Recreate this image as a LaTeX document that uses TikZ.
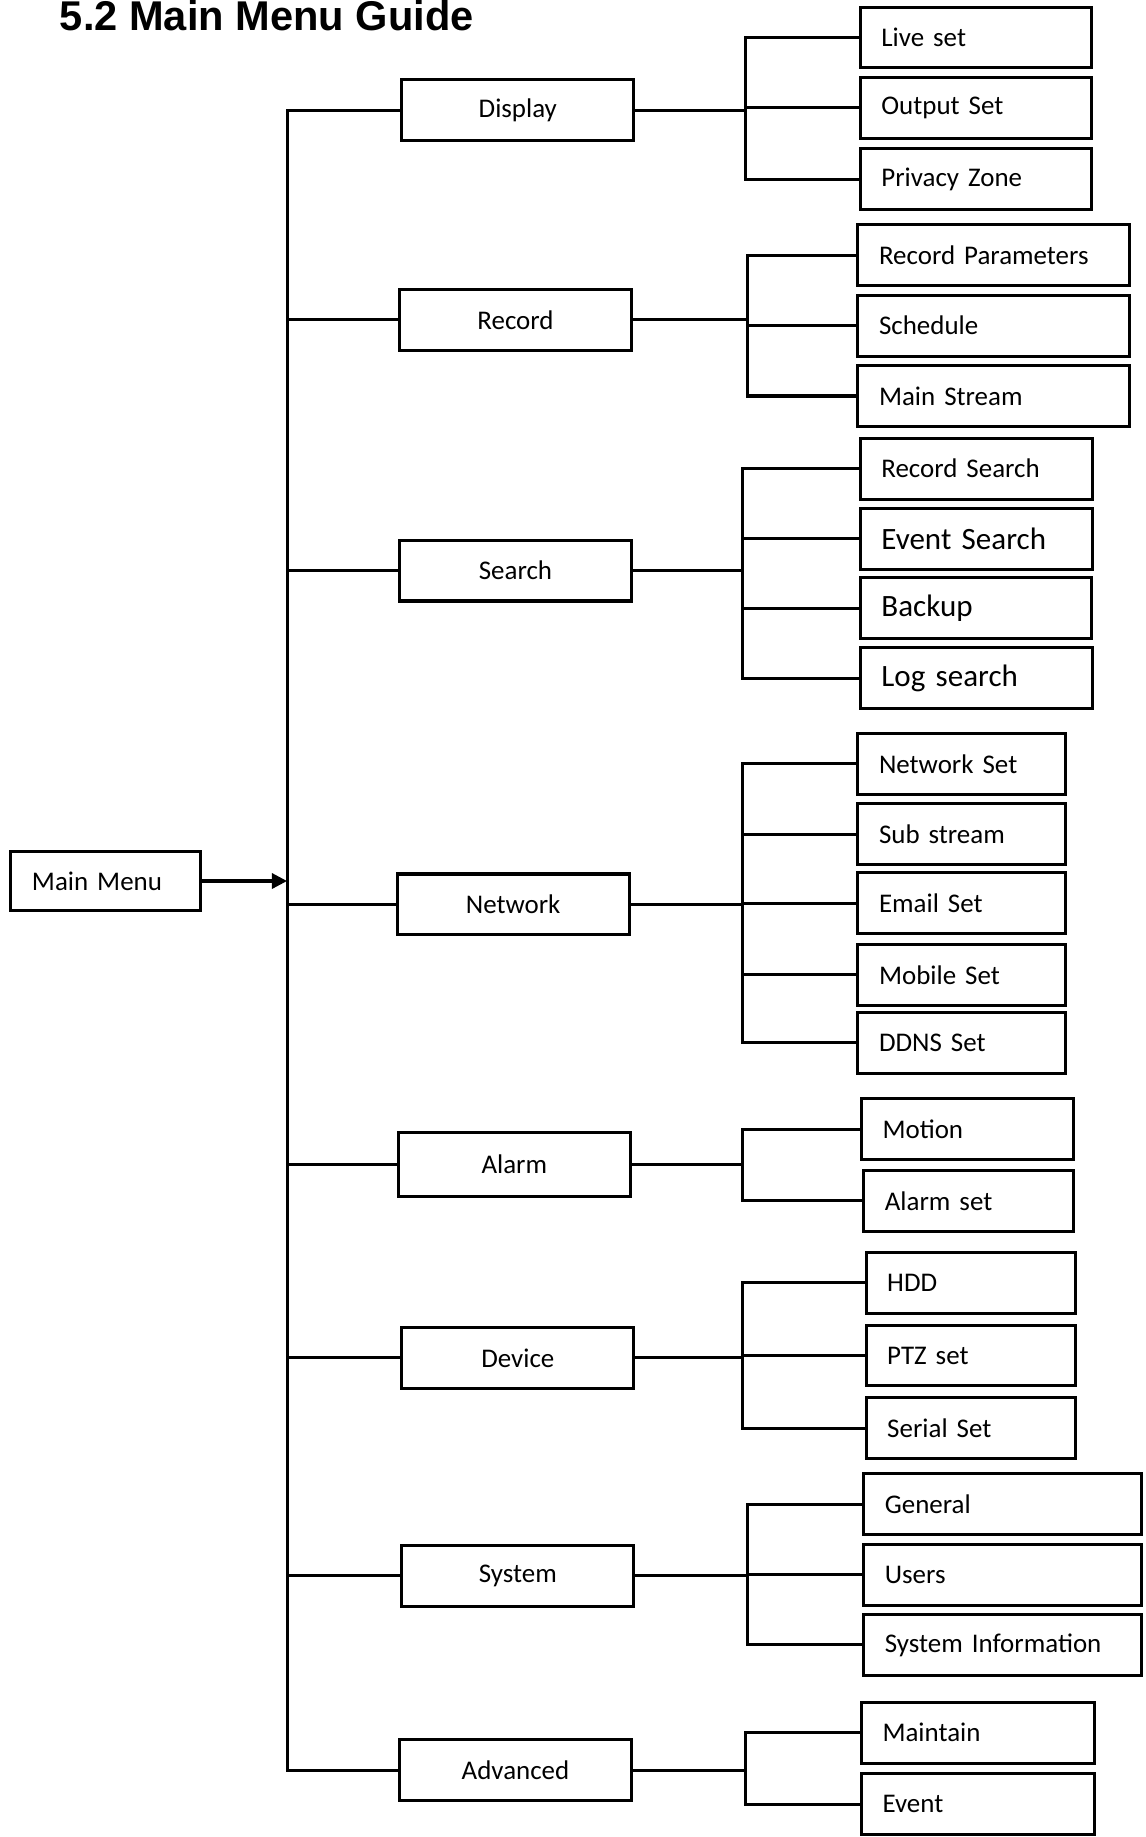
\documentclass[tikz,border=0pt]{standalone}
\usepackage{fontspec}
\setmainfont{Carlito}
\newfontfamily\titlefont{Liberation Sans}
\usetikzlibrary{arrows.meta}
\tikzset{
  menubox/.style = {draw,line width=2.6pt,minimum width=198pt,minimum height=52pt,
                    inner sep=0pt,font=\fontsize{23}{26}\selectfont},
  leafbox/.style = {draw,line width=2.6pt,anchor=west,minimum height=52pt,
                    text width=#1,align=left,inner xsep=18pt,inner ysep=0pt,
                    font=\fontsize{23}{26}\selectfont},
  bigtext/.style = {font=\fontsize{26.5}{30}\selectfont},
  link/.style    = {line width=2.6pt,line cap=rect}
}
\begin{document}
\begin{tikzpicture}[x=1pt,y=-1pt]
  \useasboundingbox (0,0) rectangle (978,1568);
  \node[anchor=base west,inner sep=0pt,font=\titlefont\bfseries\fontsize{35.5}{40}\selectfont]
       (title) at (51,26) {5.2 Main Menu Guide};
  % --- root and first level
  \node[leafbox=126pt,minimum height=51pt] (mainmenu) at (8,752) {Main Menu};
  \coordinate (tk) at (245,752);
  \node[menubox] (disp)  at (442,94)   {Display};
  \node[menubox] (rec)   at (440,273)  {Record};
  \node[menubox] (srch)  at (440,487)  {Search};
  \node[menubox] (net)   at (438,772)  {Network};
  \node[menubox,minimum height=54pt] (alarm) at (439,994) {Alarm};
  \node[menubox] (dev)   at (442,1159) {Device};
  \node[menubox] (sys)   at (442,1345) {System};
  \node[menubox] (adv)   at (440,1511) {Advanced};
  \draw[link] (disp.west -| tk) -- (adv.west -| tk);
  \foreach \m in {disp,rec,srch,net,alarm,dev,sys,adv}
    \draw[link] (\m.west) -- (\m.west -| tk);
  \draw[line width=2.6pt,-{Triangle[length=13pt,width=13pt]}] (mainmenu.east) -- (mainmenu.east -| tk);
  % --- Display
  \node[leafbox=161pt] (live)    at (733,32)  {Live set};
  \node[leafbox=161pt] (output)  at (733,92)  {Output Set};
  \node[leafbox=161pt] (privacy) at (733,153) {Privacy Zone};
  \coordinate (dx) at (636,0);
  \draw[link] (disp.east) -- (disp.east -| dx);
  \draw[link] (live.west -| dx) -- (privacy.west -| dx);
  \foreach \n in {live,output,privacy} \draw[link] (\n.west) -- (\n.west -| dx);
  % --- Record
  \node[leafbox=196pt] (recpar) at (731,218) {Record Parameters};
  \node[leafbox=196pt] (sched)  at (731,278) {Schedule};
  \node[leafbox=196pt] (mainst) at (731,338) {Main Stream};
  \coordinate (rx) at (638,0);
  \draw[link] (rec.east) -- (rec.east -| rx);
  \draw[link] (recpar.west -| rx) -- (mainst.west -| rx);
  \foreach \n in {recpar,sched,mainst} \draw[link] (\n.west) -- (\n.west -| rx);
  % --- Search
  \node[leafbox=162pt]         (recsrch) at (733,400) {Record Search};
  \node[leafbox=162pt,bigtext] (evsrch)  at (733,460) {Event Search};
  \node[leafbox=161pt,bigtext] (backup)  at (733,519) {Backup};
  \node[leafbox=162pt,bigtext] (logsrch) at (733,579) {Log search};
  \coordinate (sx) at (634,0);
  \draw[link] (srch.east) -- (srch.east -| sx);
  \draw[link] (recsrch.west -| sx) -- (logsrch.west -| sx);
  \foreach \n in {recsrch,evsrch,backup,logsrch} \draw[link] (\n.west) -- (\n.west -| sx);
  % --- Network
  \node[leafbox=141pt] (netset)  at (731,652) {Network Set};
  \node[leafbox=141pt] (substr)  at (731,712) {Sub stream};
  \node[leafbox=141pt] (email)   at (731,771) {Email Set};
  \node[leafbox=141pt] (mobile)  at (731,832) {Mobile Set};
  \node[leafbox=141pt] (ddns)    at (731,890) {DDNS Set};
  \coordinate (nx) at (634,0);
  \draw[link] (net.east) -- (net.east -| nx);
  \draw[link] (netset.west -| nx) -- (ddns.west -| nx);
  \foreach \n in {netset,substr,email,mobile,ddns} \draw[link] (\n.west) -- (\n.west -| nx);
  % --- Alarm
  \node[leafbox=145pt] (motion)   at (734,964)  {Motion};
  \node[leafbox=143pt] (alarmset) at (736,1025) {Alarm set};
  \coordinate (ax) at (634,0);
  \draw[link] (alarm.east) -- (alarm.east -| ax);
  \draw[link] (motion.west -| ax) -- (alarmset.west -| ax);
  \foreach \n in {motion,alarmset} \draw[link] (\n.west) -- (\n.west -| ax);
  % --- Device
  \node[leafbox=143pt] (hdd)    at (738,1095) {HDD};
  \node[leafbox=143pt] (ptz)    at (738,1157) {PTZ set};
  \node[leafbox=143pt] (serial) at (738,1219) {Serial Set};
  \coordinate (vx) at (634,0);
  \draw[link] (dev.east) -- (dev.east -| vx);
  \draw[link] (hdd.west -| vx) -- (serial.west -| vx);
  \foreach \n in {hdd,ptz,serial} \draw[link] (\n.west) -- (\n.west -| vx);
  % --- System
  \node[leafbox=201pt] (general) at (736,1284) {General};
  \node[leafbox=201pt] (users)   at (736,1344) {Users};
  \node[leafbox=201pt] (sysinfo) at (736,1404) {System Information};
  \coordinate (yx) at (638,0);
  \draw[link] (sys.east) -- (sys.east -| yx);
  \draw[link] (general.west -| yx) -- (sysinfo.west -| yx);
  \foreach \n in {general,users,sysinfo} \draw[link] (\n.west) -- (\n.west -| yx);
  % --- Advanced
  \node[leafbox=163pt] (maintain) at (734,1479) {Maintain};
  \node[leafbox=163pt] (event)    at (734,1540) {Event};
  \coordinate (kx) at (636,0);
  \draw[link] (adv.east) -- (adv.east -| kx);
  \draw[link] (maintain.west -| kx) -- (event.west -| kx);
  \foreach \n in {maintain,event} \draw[link] (\n.west) -- (\n.west -| kx);
\end{tikzpicture}
\end{document}
